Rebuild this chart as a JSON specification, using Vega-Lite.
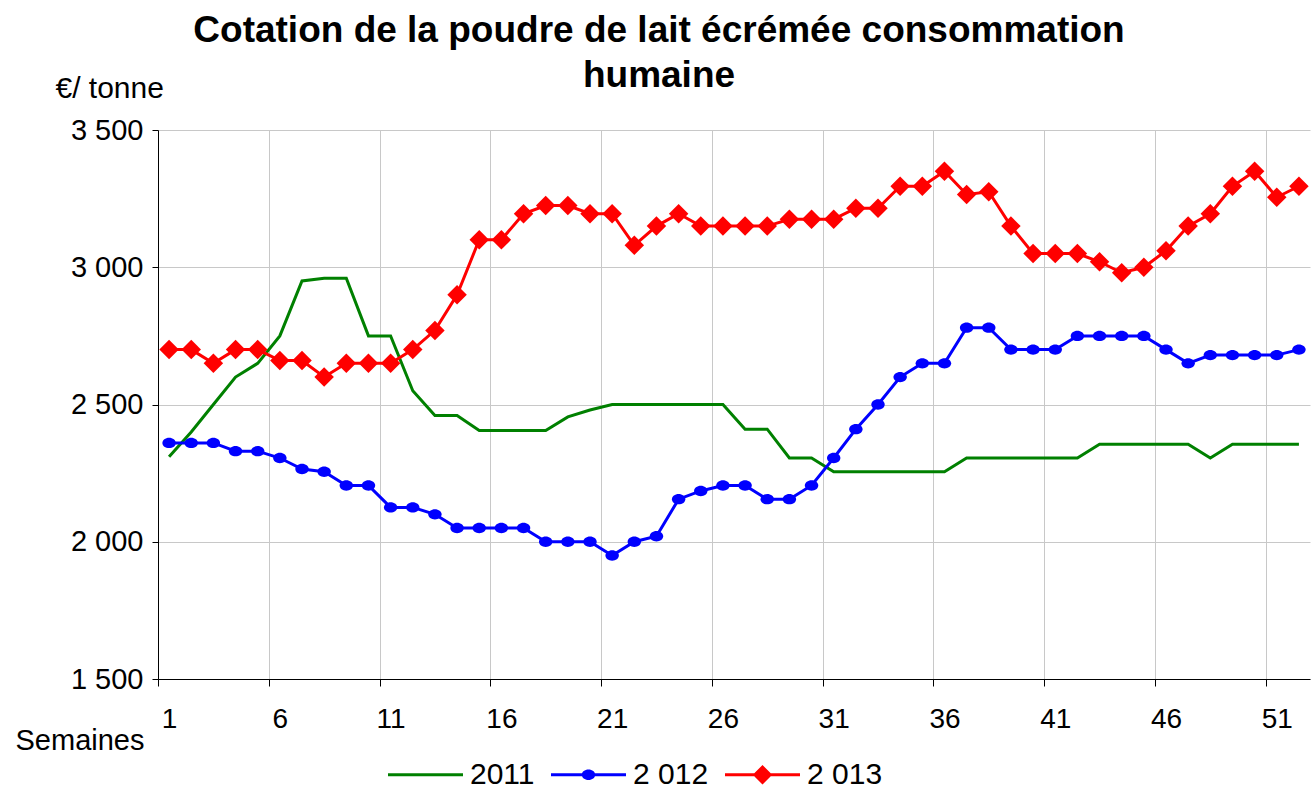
{
  "$schema": "https://vega.github.io/schema/vega-lite/v6.json",
  "width": 1152,
  "height": 549,
  "autosize": {"type": "none"},
  "padding": {"left": 158, "top": 130, "right": 5, "bottom": 111},
  "background": "white",
  "config": {
    "font": "Liberation Sans",
    "view": {"stroke": null},
    "axis": {
      "labelColor": "black", "titleColor": "black", "domainColor": "black", "tickColor": "black",
      "gridColor": "#c8c8c8", "gridWidth": 1, "domainWidth": 1, "tickWidth": 1,
      "labelFontSize": 28, "titleFontSize": 30, "titleFontWeight": "normal",
      "labelFlush": false, "labelOverlap": false
    }
  },
  "title": {
    "text": ["Cotation de la poudre de lait écrémée consommation", "humaine"],
    "fontSize": 37, "fontWeight": "bold", "color": "black", "font": "Liberation Sans",
    "anchor": "middle", "frame": "group", "dx": -75, "offset": 0, "dy": 22, "lineHeight": 45
  },
  "data": {"values": [
    {"semaine": 1, "2011": 2310, "2 012": 2360, "2 013": 2700},
    {"semaine": 2, "2011": 2400, "2 012": 2360, "2 013": 2700},
    {"semaine": 3, "2011": 2500, "2 012": 2360, "2 013": 2650},
    {"semaine": 4, "2011": 2600, "2 012": 2330, "2 013": 2700},
    {"semaine": 5, "2011": 2650, "2 012": 2330, "2 013": 2700},
    {"semaine": 6, "2011": 2750, "2 012": 2305, "2 013": 2660},
    {"semaine": 7, "2011": 2950, "2 012": 2265, "2 013": 2660},
    {"semaine": 8, "2011": 2960, "2 012": 2255, "2 013": 2600},
    {"semaine": 9, "2011": 2960, "2 012": 2205, "2 013": 2650},
    {"semaine": 10, "2011": 2750, "2 012": 2205, "2 013": 2650},
    {"semaine": 11, "2011": 2750, "2 012": 2125, "2 013": 2650},
    {"semaine": 12, "2011": 2550, "2 012": 2125, "2 013": 2700},
    {"semaine": 13, "2011": 2460, "2 012": 2100, "2 013": 2770},
    {"semaine": 14, "2011": 2460, "2 012": 2050, "2 013": 2900},
    {"semaine": 15, "2011": 2405, "2 012": 2050, "2 013": 3100},
    {"semaine": 16, "2011": 2405, "2 012": 2050, "2 013": 3100},
    {"semaine": 17, "2011": 2405, "2 012": 2050, "2 013": 3195},
    {"semaine": 18, "2011": 2405, "2 012": 2000, "2 013": 3225},
    {"semaine": 19, "2011": 2455, "2 012": 2000, "2 013": 3225},
    {"semaine": 20, "2011": 2480, "2 012": 2000, "2 013": 3195},
    {"semaine": 21, "2011": 2500, "2 012": 1950, "2 013": 3195},
    {"semaine": 22, "2011": 2500, "2 012": 2000, "2 013": 3080},
    {"semaine": 23, "2011": 2500, "2 012": 2020, "2 013": 3150},
    {"semaine": 24, "2011": 2500, "2 012": 2155, "2 013": 3195},
    {"semaine": 25, "2011": 2500, "2 012": 2185, "2 013": 3150},
    {"semaine": 26, "2011": 2500, "2 012": 2205, "2 013": 3150},
    {"semaine": 27, "2011": 2410, "2 012": 2205, "2 013": 3150},
    {"semaine": 28, "2011": 2410, "2 012": 2155, "2 013": 3150},
    {"semaine": 29, "2011": 2305, "2 012": 2155, "2 013": 3175},
    {"semaine": 30, "2011": 2305, "2 012": 2205, "2 013": 3175},
    {"semaine": 31, "2011": 2255, "2 012": 2305, "2 013": 3175},
    {"semaine": 32, "2011": 2255, "2 012": 2410, "2 013": 3215},
    {"semaine": 33, "2011": 2255, "2 012": 2500, "2 013": 3215},
    {"semaine": 34, "2011": 2255, "2 012": 2600, "2 013": 3295},
    {"semaine": 35, "2011": 2255, "2 012": 2650, "2 013": 3295},
    {"semaine": 36, "2011": 2255, "2 012": 2650, "2 013": 3350},
    {"semaine": 37, "2011": 2305, "2 012": 2780, "2 013": 3265},
    {"semaine": 38, "2011": 2305, "2 012": 2780, "2 013": 3275},
    {"semaine": 39, "2011": 2305, "2 012": 2700, "2 013": 3150},
    {"semaine": 40, "2011": 2305, "2 012": 2700, "2 013": 3050},
    {"semaine": 41, "2011": 2305, "2 012": 2700, "2 013": 3050},
    {"semaine": 42, "2011": 2305, "2 012": 2750, "2 013": 3050},
    {"semaine": 43, "2011": 2355, "2 012": 2750, "2 013": 3020},
    {"semaine": 44, "2011": 2355, "2 012": 2750, "2 013": 2980},
    {"semaine": 45, "2011": 2355, "2 012": 2750, "2 013": 3000},
    {"semaine": 46, "2011": 2355, "2 012": 2700, "2 013": 3060},
    {"semaine": 47, "2011": 2355, "2 012": 2650, "2 013": 3150},
    {"semaine": 48, "2011": 2305, "2 012": 2680, "2 013": 3195},
    {"semaine": 49, "2011": 2355, "2 012": 2680, "2 013": 3295},
    {"semaine": 50, "2011": 2355, "2 012": 2680, "2 013": 3350},
    {"semaine": 51, "2011": 2355, "2 012": 2680, "2 013": 3255},
    {"semaine": 52, "2011": 2355, "2 012": 2700, "2 013": 3295}
  ]},
  "transform": [{"fold": ["2011", "2 012", "2 013"], "as": ["serie", "prix"]}],
  "encoding": {
    "x": {
      "field": "semaine", "type": "quantitative",
      "scale": {"domain": [0.5, 52.5], "nice": false, "zero": false},
      "axis": {
        "values": [0.5, 5.5, 10.5, 15.5, 20.5, 25.5, 30.5, 35.5, 40.5, 45.5, 50.5],
        "labelExpr": "'' + (datum.value + 0.5)",
        "labelOffset": 11.08,
        "grid": true, "tickSize": 7, "labelPadding": 19,
        "title": "Semaines", "titleAlign": "left", "titleBaseline": "alphabetic",
        "titleFontSize": 29,
        "titleX": -143, "titleY": 70
      }
    },
    "y": {
      "field": "prix", "type": "quantitative",
      "scale": {"domain": [1500, 3500], "nice": false, "zero": false},
      "axis": {
        "values": [1500, 2000, 2500, 3000, 3500],
        "labelExpr": "replace(format(datum.value, ','), ',', ' ')",
        "labelFontSize": 29,
        "grid": true, "tickSize": 6, "labelPadding": 9,
        "title": "€/ tonne", "titleAngle": 0, "titleAlign": "left", "titleBaseline": "alphabetic",
        "titleX": -103, "titleY": -33
      }
    }
  },
  "layer": [
    {
      "mark": {"type": "point", "filled": true, "opacity": 0},
      "encoding": {
        "color": {"field": "serie", "type": "nominal",
          "scale": {"domain": ["2011", "2 012", "2 013"], "range": ["#008000", "#0000FF", "#FF0000"]},
          "legend": {"orient": "none", "legendX": 230, "legendY": 607, "direction": "horizontal", "columns": 3,
            "title": null, "symbolSize": 5625, "labelFontSize": 30, "labelColor": "black", "labelOffset": 7,
            "columnPadding": 16, "padding": 0, "symbolOpacity": 1, "symbolStrokeWidth": 0}},
        "shape": {"field": "serie", "type": "nominal",
          "scale": {"domain": ["2011", "2 012", "2 013"],
            "range": ["M-1,-0.04H1V0.04H-1Z",
                      "M-1,-0.04H1V0.04H-1Z M-0.18,0A0.18,0.14 0 1,1 0.18,0A0.18,0.14 0 1,1 -0.18,0Z",
                      "M-1,-0.04H1V0.04H-1Z M-0.26,0L0,-0.26L0.26,0L0,0.26Z"]},
          "legend": {"orient": "none", "legendX": 230, "legendY": 607, "direction": "horizontal", "columns": 3,
            "title": null, "symbolSize": 5625, "labelFontSize": 30, "labelColor": "black", "labelOffset": 7,
            "columnPadding": 16, "padding": 0, "symbolOpacity": 1, "symbolStrokeWidth": 0}}
      }
    },
    {
      "mark": {"type": "line", "strokeWidth": 3},
      "encoding": {
        "color": {"field": "serie", "type": "nominal", "legend": null}
      }
    },
    {
      "transform": [{"filter": "datum.serie === '2 012'"}],
      "mark": {"type": "point", "filled": true, "opacity": 1, "size": 180, "shape": "M-1,0A1,0.77 0 1,1 1,0A1,0.77 0 1,1 -1,0Z"},
      "encoding": {"color": {"field": "serie", "type": "nominal", "legend": null}}
    },
    {
      "transform": [{"filter": "datum.serie === '2 013'"}],
      "mark": {"type": "point", "filled": true, "opacity": 1, "size": 380, "shape": "diamond"},
      "encoding": {"color": {"field": "serie", "type": "nominal", "legend": null}}
    }
  ]
}
